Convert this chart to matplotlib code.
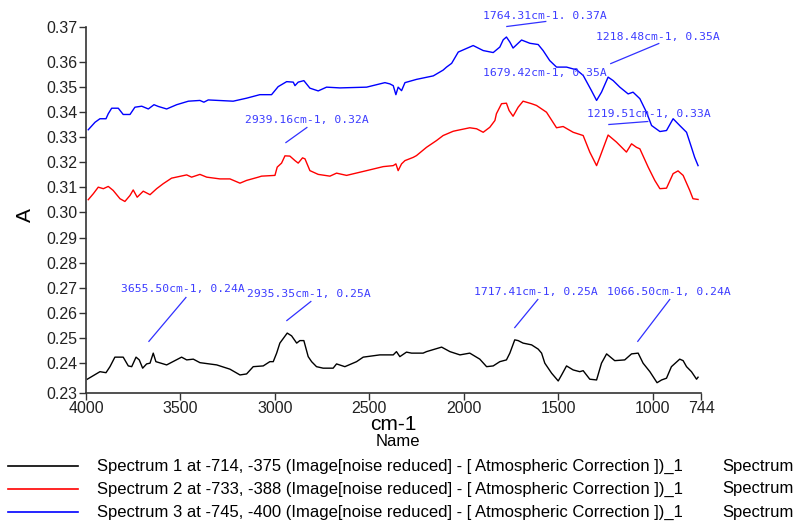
import numpy as np
import matplotlib
matplotlib.use("Agg")
import matplotlib.pyplot as plt
from matplotlib.lines import Line2D

plt.rcParams['font.family'] = ['Liberation Sans', 'DejaVu Sans']

# spectrum 1 (black)
wn1 = [3993, 3926, 3894, 3873, 3847, 3803, 3776, 3758, 3735, 3718, 3700, 3679, 3661, 3644, 3630,
       3573, 3494, 3467, 3432, 3397, 3308, 3238, 3185, 3150, 3115, 3062, 3027, 3009, 2991, 2974,
       2935, 2912, 2885, 2868, 2847, 2824, 2806, 2780, 2745, 2692, 2674, 2630, 2568, 2533, 2445,
       2374, 2357, 2339, 2304, 2277, 2216, 2198, 2118, 2074, 2021, 1969, 1916, 1880, 1845, 1810,
       1775, 1757, 1731, 1713, 1687, 1642, 1607, 1589, 1572, 1536, 1501, 1483, 1457, 1422, 1387,
       1369, 1334, 1298, 1272, 1245, 1202, 1149, 1113, 1078, 1052, 1016, 978, 954, 928, 902,
       858, 840, 822, 796, 769, 761]
a1 = [.2335, .2365, .2361, .2385, .2423, .2423, .2388, .2385, .2423, .2412, .2379, .2396, .2399, .2439, .2405,
      .2392, .2423, .2412, .2415, .2401, .2392, .2375, .2352, .2356, .2385, .2388, .2405, .2405, .2439, .2479,
      .2519, .2508, .2479, .2489, .2489, .2425, .2405, .2385, .2379, .2379, .2396, .2385, .2405, .2423, .2432,
      .2432, .2445, .2425, .2443, .2439, .2439, .2445, .2463, .2445, .2432, .2439, .2415, .2385, .2388, .2405,
      .2412, .2439, .2492, .2489, .2479, .2472, .2455, .2439, .2399, .2359, .2328, .2352, .2388, .2372, .2365,
      .2369, .2335, .2332, .2399, .2436, .2409, .2412, .2436, .2439, .2399, .2365, .2321, .2332, .2339, .2385,
      .2415, .2409, .2385, .2365, .2335, .2343]

# spectrum 2 (red)
wn2 = [3988, 3961, 3935, 3908, 3882, 3856, 3820, 3794, 3767, 3750, 3729, 3697, 3661, 3626, 3591,
       3547, 3467, 3441, 3397, 3361, 3291, 3238, 3185, 3150, 3088, 3071, 3000, 2988, 2965, 2947,
       2921, 2894, 2877, 2854, 2841, 2815, 2771, 2709, 2674, 2621, 2515, 2427, 2374, 2360, 2348,
       2330, 2312, 2268, 2251, 2198, 2145, 2110, 2057, 2039, 1969, 1933, 1898, 1863, 1836, 1828,
       1801, 1775, 1761, 1740, 1713, 1687, 1642, 1616, 1563, 1510, 1475, 1422, 1369, 1334, 1298,
       1281, 1237, 1193, 1140, 1113, 1087, 1069, 1025, 990, 963, 928, 893, 867, 840, 805,
       788, 761]
a2 = [.3051, .3075, .3101, .3095, .3104, .3088, .3055, .3044, .3068, .3090, .3061, .3085, .3071, .3095, .3115,
      .3137, .3150, .3141, .3152, .3141, .3134, .3134, .3117, .3128, .3141, .3145, .3148, .3181, .3197, .3226,
      .3225, .3207, .3197, .3218, .3214, .3167, .3152, .3145, .3157, .3148, .3167, .3183, .3187, .3194, .3167,
      .3194, .3207, .3220, .3227, .3260, .3287, .3307, .3324, .3327, .3338, .3334, .3320, .3340, .3367, .3394,
      .3434, .3436, .3407, .3384, .3420, .3444, .3434, .3427, .3400, .3338, .3343, .3320, .3307, .3241, .3187,
      .3220, .3309, .3281, .3241, .3274, .3260, .3254, .3181, .3128, .3095, .3097, .3155, .3166, .3148, .3088,
      .3055, .3052]

# spectrum 3 (blue)
wn3 = [3988, 3952, 3926, 3894, 3882, 3864, 3829, 3803, 3767, 3741, 3705, 3670, 3640, 3617, 3573,
       3520, 3458, 3397, 3376, 3353, 3221, 3150, 3080, 3018, 2983, 2938, 2903, 2894, 2877, 2847,
       2815, 2771, 2727, 2656, 2515, 2418, 2392, 2374, 2360, 2348, 2330, 2312, 2251, 2162, 2110,
       2092, 2065, 2030, 1951, 1898, 1845, 1810, 1792, 1775, 1757, 1740, 1695, 1651, 1607, 1581,
       1546, 1510, 1457, 1404, 1369, 1325, 1298, 1272, 1237, 1210, 1175, 1131, 1105, 1069, 1034,
       1007, 963, 928, 893, 858, 822, 796, 779, 761]
a3 = [.3330, .3360, .3374, .3374, .3394, .3416, .3416, .3391, .3391, .3420, .3424, .3413, .3430, .3423, .3413,
      .3430, .3444, .3447, .3440, .3449, .3444, .3456, .3470, .3470, .3502, .3522, .3520, .3506, .3520, .3526,
      .3496, .3485, .3500, .3497, .3500, .3518, .3513, .3506, .3470, .3500, .3486, .3518, .3531, .3545, .3568,
      .3580, .3595, .3640, .3666, .3646, .3638, .3660, .3689, .3700, .3680, .3656, .3688, .3675, .3670, .3646,
      .3606, .3580, .3580, .3569, .3547, .3486, .3447, .3480, .3540, .3526, .3500, .3473, .3480, .3454, .3400,
      .3347, .3323, .3327, .3374, .3347, .3320, .3260, .3220, .3187]

colors = ['black', '#ff0000', '#0000ff']
names = ['Spectrum 1 at -714, -375 (Image[noise reduced] - [ Atmospheric Correction ])_1',
         'Spectrum 2 at -733, -388 (Image[noise reduced] - [ Atmospheric Correction ])_1',
         'Spectrum 3 at -745, -400 (Image[noise reduced] - [ Atmospheric Correction ])_1']

# peak labels: text, text anchor (wn, A), leader line start/end (wn, A) or None
peaks = [
    ('2939.16cm-1, 0.32A', (3159, 0.3367), (2942, 0.3279, 2831, 0.3339)),
    ('1764.31cm-1. 0.37A', (1900, 0.3785), (1773, 0.3742, 1567, 0.3762)),
    ('1218.48cm-1, 0.35A', (1302, 0.3702), (1223, 0.3594, 969, 0.3674)),
    ('1679.42cm-1, 0.35A', (1900, 0.3558), None),
    ('1219.51cm-1, 0.33A', (1350, 0.3391), (1233, 0.3351, 1027, 0.3363)),
    ('3655.50cm-1, 0.24A', (3815, 0.2693), (3667, 0.2486, 3471, 0.2661)),
    ('2935.35cm-1, 0.25A', (3148, 0.2673), (2937, 0.2569, 2810, 0.2645)),
    ('1717.41cm-1, 0.25A', (1947, 0.2681), (1731, 0.2541, 1609, 0.2653)),
    ('1066.50cm-1, 0.24A', (1244, 0.2681), (1080, 0.2486, 911, 0.2653)),
]

xticks = [4000, 3500, 3000, 2500, 2000, 1500, 1000, 744]
yticks = [0.228, 0.24, 0.25, 0.26, 0.27, 0.28, 0.29, 0.30, 0.31, 0.32, 0.33, 0.34, 0.35, 0.36, 0.374]
ylabels = ['0.23', '0.24', '0.25', '0.26', '0.27', '0.28', '0.29', '0.30', '0.31', '0.32',
           '0.33', '0.34', '0.35', '0.36', '0.37']

fig = plt.figure(figsize=(7.96, 5.21), dpi=100)
ax = fig.add_axes([0.108, 0.2457, 0.773, 0.7025])

for wn, a, c in zip([wn1, wn2, wn3], [a1, a2, a3], colors):
    ax.plot(wn, a, color=c, lw=1.0)

for txt, (tx, ty), seg in peaks:
    ax.text(tx, ty, txt, fontsize=8.2, family='DejaVu Sans Mono', color='#3c3cff',
            ha='left', va='center', clip_on=False)
    if seg is not None:
        ax.plot([seg[0], seg[2]], [seg[1], seg[3]], color='#3030ff', lw=0.9, clip_on=False)

ax.set_xlim(4000, 744)
ax.set_ylim(0.228, 0.374)
ax.set_xticks(xticks)
ax.set_xticklabels([str(t) for t in xticks])
ax.set_yticks(yticks)
ax.set_yticklabels(ylabels)
ax.tick_params(labelsize=11.5, length=5, width=1, color='#333333', labelcolor='#222222', pad=1)
for s in ['top', 'right']:
    ax.spines[s].set_visible(False)
for s in ['left', 'bottom']:
    ax.spines[s].set_color('#333333')
    ax.spines[s].set_linewidth(1.2)

ax.set_xlabel('cm-1', fontsize=15, va='center')
ax.xaxis.set_label_coords(0.5, -0.087)
ax.set_ylabel('A', fontsize=15, va='center')
ax.yaxis.set_label_coords(-0.099, 0.486)

# legend below the plot
fig.text(398 / 796, 1 - 441 / 521, 'Name', ha='center', va='center', fontsize=12)
for i, (nm, c) in enumerate(zip(names, colors)):
    yy = 1 - (466 + 23 * i) / 521
    fig.add_artist(Line2D([8 / 796, 78 / 796], [yy, yy], transform=fig.transFigure, color=c, lw=1.2))
    fig.text(97 / 796, yy, nm, ha='left', va='center', fontsize=12)
    fig.text(722 / 796, yy, 'Spectrum', ha='left', va='center', fontsize=12)

fig.savefig('out.png', dpi=100)
